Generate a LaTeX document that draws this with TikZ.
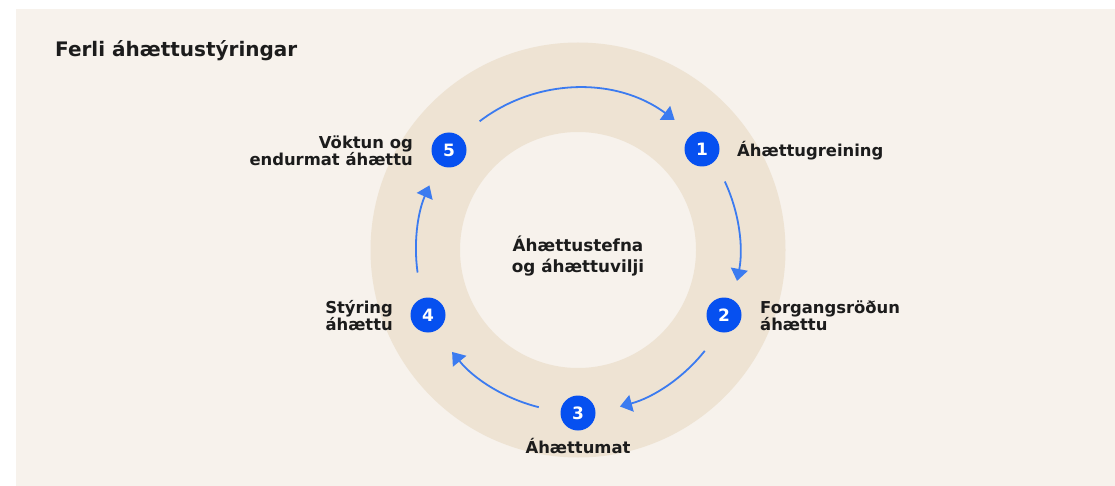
\documentclass[tikz,border=0pt]{standalone}
\usepackage{fontspec}
\setmainfont{DejaVu Sans}
\usetikzlibrary{arrows.meta,calc}
\definecolor{bgc}{HTML}{F7F2EC}
\definecolor{ringc}{HTML}{EEE3D3}
\definecolor{badgec}{HTML}{0650F0}
\definecolor{arrc}{HTML}{3B7BF0}
\definecolor{txtc}{HTML}{1C1C1C}
\begin{document}
\begin{tikzpicture}[x=1pt,y=1pt,
  badge/.style={circle,fill=badgec,minimum size=35pt,inner sep=0pt,text=white,font=\fontsize{17}{17}\selectfont\bfseries},
  lbl/.style={text=txtc,inner sep=0pt,font=\fontsize{16.4}{17}\selectfont\bfseries},
  flow/.style={draw=arrc,line width=1.8pt,-{Triangle[length=12pt,width=17pt]}}]
\useasboundingbox (0,0) rectangle (1115,-486);
\fill[white] (0,0) rectangle (1115,-486);
\fill[bgc] (16,-9) rectangle (1115,-486);
\coordinate (C) at (578,-250);
\fill[ringc,even odd rule] (C) circle[radius=207.5pt] (C) circle[radius=118pt];
\node[lbl,anchor=base west,font=\fontsize{20}{22}\selectfont\bfseries] (title) at (55,-57) {Ferli áhættustýringar};
\node[lbl,align=center,font=\fontsize{16.8}{21}\selectfont\bfseries] (mid) at (578,-256) {Áhættustefna\\og áhættuvilji};
\node[badge] (b1) at (702,-149) {1};
\node[badge] (b2) at (724,-315) {2};
\node[badge] (b3) at (578,-413) {3};
\node[badge] (b4) at (428,-315) {4};
\node[badge] (b5) at (449,-150) {5};
\node[lbl,anchor=base west] (l1) at (737,-157) {Áhættugreining};
\node[lbl,anchor=west,align=left] (l2) at (760,-316) {Forgangsröðun\\áhættu};
\node[lbl,anchor=base] (l3) at (578,-453) {Áhættumat};
\node[lbl,anchor=east,align=right] (l4) at (393,-316) {Stýring\\áhættu};
\node[lbl,anchor=east,align=right] (l5) at (413,-151) {Vöktun og\\endurmat áhættu};
\coordinate (s51) at ($(C)+(127.4:162pt)$);
\coordinate (s12) at ($(C)+(25:162pt)$);
\coordinate (s23) at ($(C)+(-38.5:162pt)$);
\coordinate (s34) at ($(C)+(-104:162pt)$);
\coordinate (s45) at ($(C)+(188:162pt)$);
\draw[flow] (s51) arc[start angle=127.4,end angle=53.4,radius=162pt];
\draw[flow] (s12) arc[start angle=25,end angle=-11,radius=162pt];
\draw[flow] (s23) arc[start angle=-38.5,end angle=-75,radius=162pt];
\draw[flow] (s34) arc[start angle=-104,end angle=-141,radius=162pt];
\draw[flow] (s45) arc[start angle=188,end angle=156.5,radius=162pt];
\end{tikzpicture}
\end{document}
